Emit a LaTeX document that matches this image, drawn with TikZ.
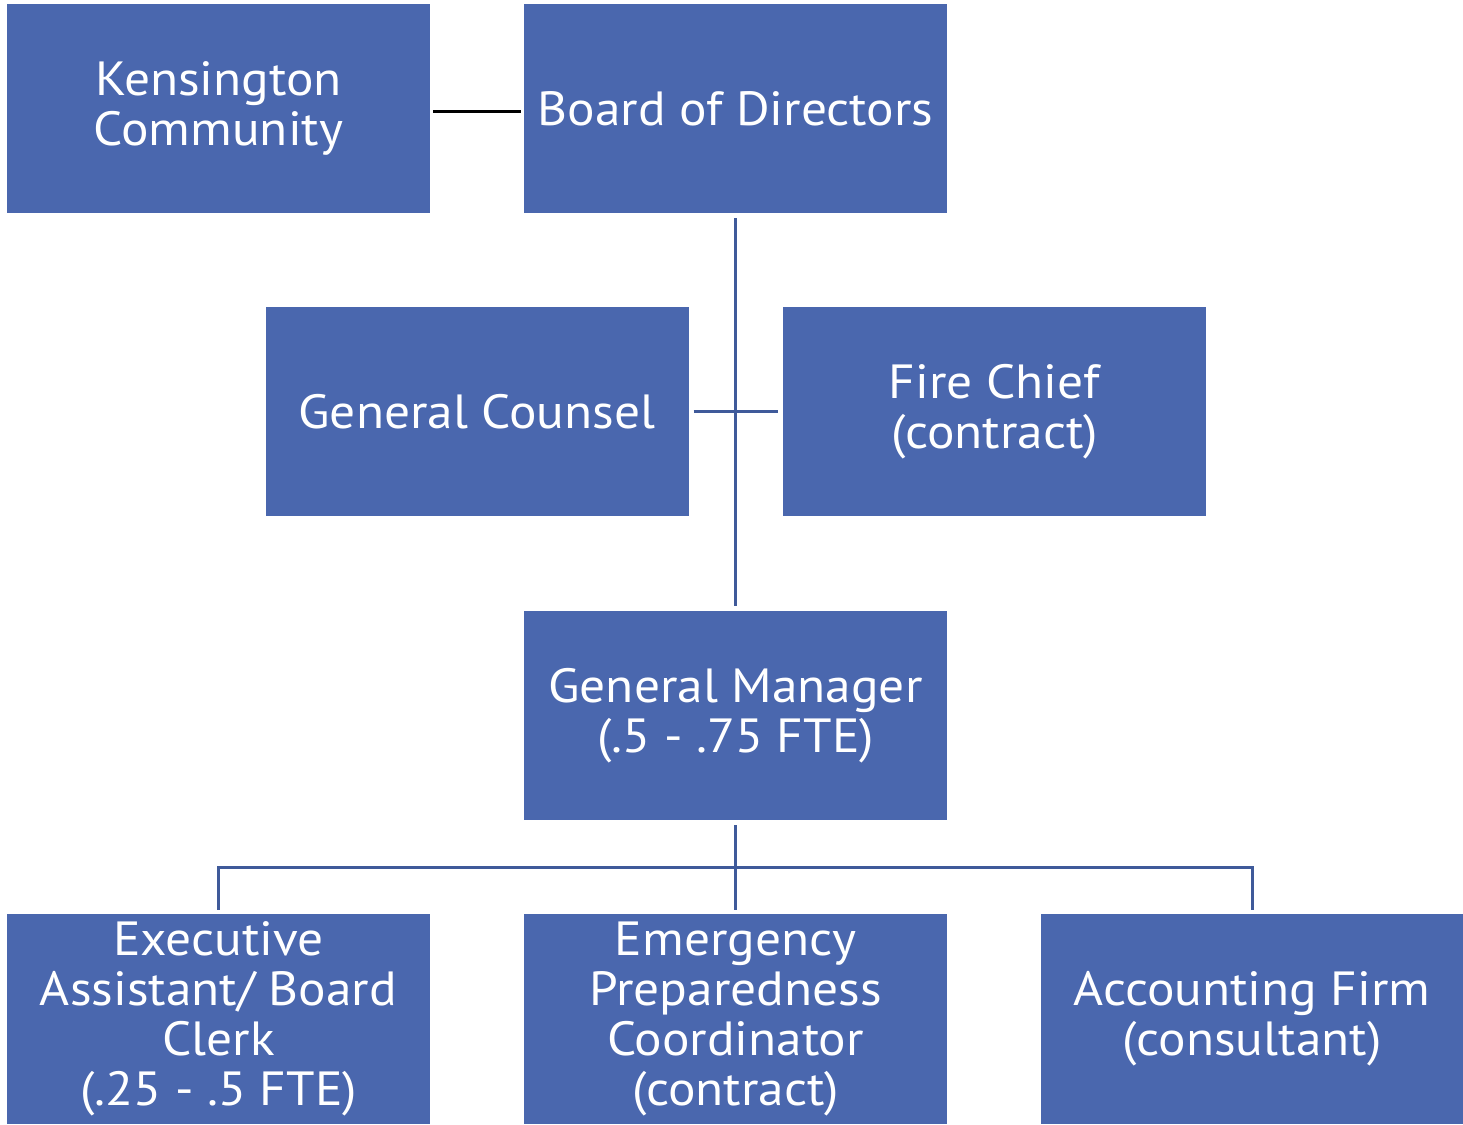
\documentclass[tikz,border=0pt]{standalone}
\usepackage{fontspec}
\setmainfont[FakeStretch=1.07]{PT Sans}
\usetikzlibrary{calc}
\definecolor{boxblue}{HTML}{4A67AE}
\definecolor{lineblue}{HTML}{3F5A9A}
\begin{document}
\begin{tikzpicture}[x=1bp,y=-1bp,
  box/.style={fill=boxblue,draw=none,minimum width=423bp,minimum height=209bp,
    text=white,align=center,inner sep=0pt,
    font=\fontsize{48bp}{50bp}\selectfont},
  link/.style={draw=lineblue,line width=3bp},
  blink/.style={draw=black,line width=3bp}]
\useasboundingbox (0,0) rectangle (1463,1124);
\node[box] (ken) at (218.5,108.5) {Kensington\\Community};
\node[box] (board) at (735.5,108.5) {Board of Directors};
\node[box] (gc) at (477,411.5) {General Counsel};
\node[box] (fire) at (994.5,411.5) {Fire Chief\\(contract)};
\node[box] (gm) at (735.5,715.5) {General Manager\\(.5 - .75 FTE)};
\node[box,minimum height=210bp] (ea) at (218.5,1019) {Executive\\Assistant/ Board\\Clerk\\(.25 - .5 FTE)};
\node[box,minimum height=210bp] (ep) at (735.5,1019) {Emergency\\Preparedness\\Coordinator\\(contract)};
\node[box,minimum height=210bp,minimum width=422bp] (af) at (1252,1019) {Accounting Firm\\(consultant)};
\draw[blink] ($(ken.east)+(3,2.5)$) -- ($(board.west)+(-3,2.5)$);
\draw[link] ($(board.south)+(0,5)$) -- ($(gm.north)+(0,-5)$);
\draw[link] ($(gc.east)+(5,0)$) -- ($(fire.west)+(-5,0)$);
\coordinate (bar) at (735.5,867);
\draw[link] ($(gm.south)+(0,5)$) -- (bar);
\draw[link] ($(ea.north)+(0,-4)$) |- (bar) -| ($(af.north)+(0,-4)$);
\draw[link] (bar) -- ($(ep.north)+(0,-4)$);
\end{tikzpicture}
\end{document}
